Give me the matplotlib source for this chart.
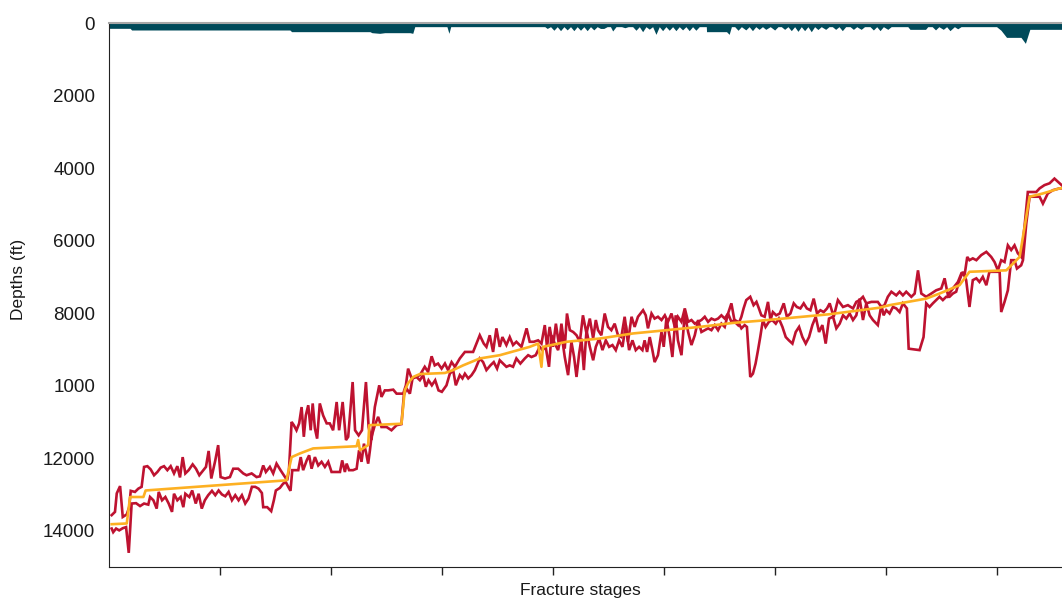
import matplotlib
matplotlib.use('Agg')
import matplotlib.pyplot as plt

plt.rcParams['font.family'] = ['Liberation Sans', 'DejaVu Sans']

# depth axis ticks (the 10000 label reads "1000" in the original)
depth_ticks = [0, 2000, 4000, 6000, 8000, 10000, 12000, 14000]
depth_labels = ['0', '2000', '4000', '6000', '8000', '1000', '12000', '14000']
stage_ticks = [50, 100, 150, 200, 250, 300, 350, 400]

# first red series (stage, depth ft)
red1_stage = [1.2, 2.7, 3.5, 5.0, 6.2, 8.0, 9.1, 9.8, 11.7, 13.2, 14.7, 15.8, 17.3, 18.8, 20.3, 21.8, 23.3, 24.8,
              26.3, 27.8, 29.3, 30.8, 32.0, 33.2, 34.4, 35.9, 37.7, 39.2, 40.7, 42.5, 43.7, 44.9, 46.1, 47.9, 49.2,
              50.3, 52.3, 54.5, 56.0, 58.2, 60.5, 62.0, 64.3, 66.5, 68.0, 69.5, 70.7, 72.5, 74.0, 75.5, 77.3, 78.8,
              80.3, 81.1, 82.3,
              83.3, 84.5, 85.7, 86.8, 87.8, 88.7, 89.8, 90.9, 91.8, 92.8, 93.8, 95.0, 96.5, 98.1, 99.5, 101.0, 102.6,
              103.7, 105.3, 106.8, 107.8, 109.8, 110.9, 112.5, 114.0, 115.8, 117.0, 118.3, 119.8, 121.8, 122.8, 124.3,
              125.8, 128.1, 129.6, 132.6, 133.8, 134.8, 136.4, 137.8, 140.1, 142.3, 143.8, 145.4, 146.8, 148.3, 149.9,
              151.4, 152.8, 154.4, 155.9,
              158.1, 160.4, 164.1, 167.1, 168.9, 170.1, 171.6, 173.1, 174.6, 176.1, 177.3, 179.1, 180.6, 182.1, 183.6,
              185.9, 188.2, 189.6, 191.4, 193.4, 194.9, 196.4, 197.4, 198.6, 200.1, 201.4, 202.8, 203.9, 205.4, 206.4,
              207.7, 209.2, 210.7, 212.2, 213.6, 215.2, 216.7, 218.2, 219.4, 220.4, 221.9, 223.4, 224.9, 226.4, 227.9,
              229.4, 230.9, 232.4, 233.9, 235.5, 236.9, 238.4,
              240.7, 241.9, 242.9, 244.5, 245.9, 247.4, 249.0, 250.5, 251.9, 253.5, 255.0, 256.4, 258.0, 259.5, 261.0,
              262.5, 264.0, 265.5, 267.0, 268.5, 270.0, 271.5, 273.0, 274.5, 276.0, 277.5, 279.0, 280.5, 282.0, 283.5,
              285.0, 286.0, 287.2, 289.0, 290.5, 291.8, 292.9, 294.0, 295.5, 297.0, 298.1, 299.2, 300.7, 302.3, 304.1,
              305.5, 307.1, 308.6, 310.0, 311.6, 313.1, 314.5, 316.1, 317.6, 319.1, 320.6, 322.1, 323.6,
              324.8, 326.6, 328.5, 330.8, 333.0, 335.3, 336.8, 338.3, 339.8, 341.3, 343.6, 346.5, 348.1, 349.5, 351.0,
              352.6, 354.8, 356.3, 357.8, 359.3, 361.6, 363.1, 364.6, 366.1, 368.3, 370.6, 372.8, 375.1, 376.6, 378.1,
              380.3, 382.6, 384.1, 385.6, 386.8, 387.8, 389.3, 390.9, 393.1, 395.4, 397.6, 399.1, 400.6, 402.1, 403.6,
              405.1, 406.6, 408.1, 409.6, 411.1, 412.6, 414.1, 417.9, 419.4, 421.6, 423.9, 426.1, 428.4, 429.5]
red1_depth = [13570, 13480, 12970, 12770, 13620, 13550, 13350, 12900, 12930, 12840, 12790, 12240, 12220, 12310, 12470,
              12380, 12260, 12220, 12330, 12220, 12420, 12220, 12530, 11970, 12420, 12330, 12170, 12290, 12470, 12330,
              12240, 11800, 12560, 12060, 11640, 12520, 12560, 12520, 12290, 12290, 12420, 12470, 12420, 12520, 12500,
              12200, 12380, 12240, 12420, 12150, 12330, 12470, 12610, 12330, 11000,
              11090, 11230, 11040, 10590, 11410, 10820, 10540, 11230, 10490, 11180, 11460, 10490, 10820, 11040, 11040,
              11230, 10450, 11230, 10450, 11500, 11410, 9900, 11230, 11370, 11230, 9900, 11140, 11500, 10590, 9990,
              10310, 10130, 10130, 10110, 10220, 10220, 9990, 9530, 9800, 9760, 9710, 9480, 9620, 9190, 9440, 9390,
              9530, 9390, 9570, 9350, 9480,
              9250, 9070, 9070, 8610, 8840, 8930, 8610, 9070, 8420, 8930, 8660, 8880, 8660, 8880, 8790, 8930, 8420,
              8790, 8790, 8750, 8840, 8330, 8930, 8380, 8930, 8290, 8880, 8290, 8980, 8010, 8470, 8520, 8610, 8790,
              8060, 8560, 8150, 8700, 8190, 8470, 8610, 8010, 8380, 8470, 8290, 8610, 8660, 8100, 8790, 8100, 8380,
              8100,
              7920, 8060, 8420, 8010, 8150, 8100, 8190, 8060, 8240, 8010, 8380, 8100, 8240, 7870, 8240, 8190, 8290,
              8240, 8190, 8100, 8240, 8150, 8190, 8150, 8060, 8150, 8010, 7730, 8240, 8330, 8100, 7870, 7640, 7550,
              7780, 7690, 7870, 8060, 8100, 7690, 8190, 7970, 8060, 8010, 7730, 8100, 8010, 7730, 7830, 7870, 7730,
              7870, 7920, 7600, 8010, 7920, 7970, 7870,
              7730, 8100, 7640, 7830, 7780, 7870, 7690, 7640, 7550, 7730, 7690, 7690, 7830, 7780, 7550, 7410, 7510,
              7410, 7510, 7410, 7550, 7460, 6820, 7460, 7550, 7460, 7370, 7320, 7040, 7510, 7320, 7140, 6910, 6950,
              6450, 6540, 6490, 6540, 6400, 6310, 6450, 6590, 6820, 6540, 6590, 6130, 6260, 6130, 6350, 6450, 5620,
              4660, 4660, 4560, 4470, 4420, 4290, 4420, 4480]

# second red series (stage, depth ft)
red2_stage = [1.2, 1.9, 3.2, 4.6, 6.2, 7.7, 8.9, 10.2, 12.2, 14.0, 15.8, 17.7, 18.5, 20.0, 21.5, 22.4, 23.9, 25.4,
              26.9, 28.4, 29.3, 30.8, 32.3, 33.5, 34.4, 36.2, 37.5, 39.1, 40.4, 41.8, 43.2, 44.7, 46.4, 47.9, 49.4,
              50.9, 52.4, 53.9, 55.4, 56.9, 58.4, 59.9, 61.4, 62.9, 64.4, 65.9, 67.4, 68.9, 69.5, 71.3, 73.1, 74.3,
              75.2, 77.0, 78.5, 79.7, 80.8, 81.8,
              82.6, 83.8, 85.3, 86.4, 87.5, 89.1, 90.2, 91.3, 92.8, 94.3, 95.8, 97.3, 98.8, 100.3, 102.6, 104.1, 105.1,
              106.3, 107.1, 108.2, 110.0, 111.6, 112.7, 113.8, 114.9, 115.8, 116.8, 117.6, 118.3, 119.8, 121.3, 122.8,
              125.1, 127.3, 129.6, 131.8, 132.9, 134.1, 135.6, 136.8, 138.6, 140.1, 141.6, 142.8, 144.0, 145.5, 147.0,
              148.5, 150.0, 152.1, 153.6, 155.1, 156.3,
              158.1, 159.3, 160.4, 161.9, 163.4, 164.9, 167.1, 168.6, 170.1, 171.9, 173.4, 174.9, 176.1, 177.6, 179.1,
              180.6, 182.1, 183.6, 185.4, 187.4, 188.9, 190.4, 192.3, 194.1, 195.4, 196.8, 198.3, 199.4, 200.9, 202.4,
              203.9, 205.4, 206.9, 208.4, 209.6, 210.7, 211.9, 212.9, 214.0, 215.2, 216.7, 218.2, 219.4, 220.9, 222.4,
              223.9, 225.4, 226.9, 228.4, 229.9, 231.4, 232.9, 234.4, 235.9, 237.4, 238.9,
              240.4, 241.4, 242.5, 243.7, 244.9, 245.9, 247.4, 249.0, 250.0, 251.2, 252.7, 253.9, 255.4, 256.4, 258.0,
              259.5, 261.0, 262.5, 264.0, 265.5, 267.0, 268.5, 270.0, 271.5, 273.0, 274.5, 276.0, 277.5, 279.0, 280.5,
              282.0, 283.5, 285.0, 286.5, 287.5, 288.1, 289.0, 290.2, 291.4, 292.5, 293.5, 294.7, 295.9, 297.4, 298.9,
              300.5, 301.9, 303.5, 305.0, 306.4, 308.0, 309.5, 311.0, 312.5, 314.0, 315.5, 317.0, 318.5, 320.0, 321.5,
              323.0, 324.5,
              326.3, 327.8, 329.3, 330.8, 332.3, 333.8, 335.3, 336.8, 338.3, 339.8, 341.3, 342.8, 344.3, 346.5, 348.1,
              349.1, 350.3, 351.8, 353.3, 354.8, 356.3, 357.8, 359.6, 360.4, 365.3, 367.1, 368.3, 369.8, 371.3, 372.8,
              374.3, 375.8, 377.3, 378.8, 380.3, 381.8, 383.3, 384.8, 386.3, 387.8, 389.3, 390.9, 392.3, 393.8, 395.4,
              396.8, 398.3, 401.4, 402.1, 403.6, 405.1, 406.6, 408.1, 409.2, 411.1, 411.9, 413.4, 414.9, 417.1, 419.4,
              420.9, 423.1, 425.4, 428.4, 429.5]
red2_depth = [13940, 14040, 13940, 13990, 13930, 13900, 14610, 13250, 13240, 13320, 13250, 13280, 13070, 13160, 13390,
              12930, 13160, 13070, 13250, 13480, 12980, 13160, 13070, 13350, 12980, 13070, 12890, 13250, 12980, 13390,
              13160, 13020, 12900, 13020, 12890, 13000, 13050, 12930, 13160, 13020, 13160, 13020, 13250, 13110, 12790,
              12790, 12840, 12960, 13350, 13350, 13460, 13160, 12890, 12820, 12700, 12660, 12790, 12900,
              12330, 12330, 12330, 11970, 12330, 12060, 11920, 12290, 11970, 12200, 12100, 12240, 12100, 12380, 12380,
              12380, 12060, 12380, 12150, 12330, 12330, 12290, 11780, 12100, 11600, 11830, 12150, 11780, 11410, 11090,
              10860, 11140, 11140, 11230, 11090, 11060, 10260, 10080, 10220, 9800, 9760, 9850, 9710, 10030, 9850,
              9990, 9850, 10130, 10170, 9990, 9670, 9570, 9990,
              9710, 9800, 9670, 9800, 9710, 9570, 9250, 9350, 9570, 9440, 9350, 9530, 9300, 9390, 9480, 9440, 9480,
              9250, 9390, 9250, 9160, 9210, 9160, 8930, 9020, 8930, 9480, 8610, 8840, 9020, 8560, 9210, 9710, 8790,
              9210, 9760, 9110, 8700, 9570, 8470, 8930, 9300, 8930, 8700, 9020, 8750, 8930, 8880, 9020, 8750, 8930,
              8330, 9020, 8750, 9020, 8930,
              9020, 8750, 9070, 8660, 9020, 9350, 9160, 8520, 8930, 8150, 8660, 9210, 8060, 8750, 9160, 8010, 8520,
              8880, 8610, 8190, 8520, 8470, 8420, 8470, 8330, 8470, 8290, 8380, 8010, 8240, 8190, 8240, 8420, 8330,
              8380, 8930, 9760, 9670, 9390, 9020, 8660, 8190, 8380, 8240, 8190, 8290, 8150, 8380, 8660, 8750, 8840,
              8520, 8380, 8660, 8840, 8660, 8330, 8100, 8520, 8330, 8840, 8150,
              8100, 8420, 8290, 8060, 8150, 8010, 8190, 8060, 7600, 8190, 7730, 8060, 8190, 8330, 7780, 8060, 7920,
              8010, 7830, 7870, 7970, 7730, 7870, 8980, 9020, 8660, 7730, 7830, 7730, 7640, 7550, 7640, 7550, 7550,
              7460, 7410, 7090, 6860, 7090, 7830, 7090, 7040, 7140, 7000, 7230, 6860, 6860, 6860, 7970, 7690, 7370,
              6540, 6540, 6770, 6680, 6540, 5530, 4790, 4790, 4790, 4980, 4700, 4610, 4560, 4560]

# orange series (stage, depth ft)
orange_stage = [1.2, 8.0, 9.5, 15.5, 16.5, 80.0, 80.8, 82.3, 86.0, 92.0, 111.6, 112.3, 113.1, 116.8, 117.3, 131.8,
                133.3, 134.8, 137.1, 140.1, 151.4, 155.1, 159.6, 167.1, 176.1, 189.6, 193.4, 194.9, 195.6, 206.2,
                221.2, 236.2, 251.2, 266.2, 281.2, 293.2, 324.8, 347.3, 351.8, 368.3, 374.3, 383.3, 387.8, 404.4,
                410.4, 414.9, 420.9, 428.4, 429.5]
orange_depth = [13820, 13800, 13070, 13070, 12890, 12610, 12380, 11970, 11870, 11730, 11670, 11500, 11780, 11640,
                11090, 11050, 10130, 9930, 9760, 9680, 9650, 9570, 9440, 9250, 9160, 8930, 8840, 9480, 8930, 8790,
                8700, 8560, 8470, 8380, 8270, 8210, 8030, 7850, 7780, 7600, 7460, 7230, 6860, 6820, 6450, 4790,
                4700, 4560, 4550]

# teal band hanging from the top (stage, depth ft)
teal_stage = [0, 9.5, 10.2, 81.5, 82.3, 117.6, 118.5, 122, 124.3, 135.6, 136.9, 137.8, 152.3, 153.2, 154.0, 196.4,
              197.5, 199, 200.5, 202, 203.5, 205, 206.5, 208, 209.5, 211, 212.5, 214, 215.5, 217, 218.5, 220, 221.5,
              223, 224.5, 226, 227, 228.5, 231, 232.5, 234, 236, 237.5, 239, 240.5, 242, 243.5, 245, 246.5, 248,
              249.5, 251, 252.5, 254, 255.5, 257, 258.5, 260, 261.5, 263, 264.5, 266, 269.2, 269.3, 278.3, 279.5,
              280.5, 282, 283.5, 285, 287, 288.5, 290, 291.5, 293, 294.5, 296, 298, 300, 301.5, 303, 304.5, 306,
              307.5, 309, 310.5, 312, 313.5, 315, 316.5, 318, 319.5, 321, 323, 324.5, 326, 327.5, 329, 330.5, 332,
              334, 335.5, 337, 339, 340.5, 343, 344.5, 346, 347.5, 349, 351, 352.5, 355, 360, 361, 368, 369, 371,
              372.5, 374, 376, 377.5, 379, 381, 382.5, 384, 400, 402, 404.5, 411, 413, 415, 429.5]
teal_depth = [147, 147, 193, 193, 239, 239, 267, 285, 267, 267, 285, 101, 101, 285, 101, 101,
              150, 101, 200, 101, 211, 101, 190, 101, 211, 101, 200, 101, 211, 101, 190, 101, 150,
              150, 101, 101, 220, 101, 101, 130, 101, 101, 200, 101, 240, 101, 170, 101, 313, 101,
              211, 101, 200, 101, 211, 101, 190, 101, 211, 101, 200, 101, 101, 239, 239, 313,
              101, 101, 200, 101, 190, 101, 211, 101, 175, 101, 175, 101, 193, 101, 101, 175, 101,
              211, 101, 230, 101, 211, 101, 240, 101, 180, 101, 175, 101, 101, 175, 101, 211, 101,
              101, 175, 101, 175, 101, 101, 193, 101, 211, 101, 175, 101, 101, 101, 175, 175, 101, 101,
              190, 101, 175, 101, 211, 101, 160, 101, 101, 200, 396, 396, 561, 175, 175]

red = '#BE1230'
orange = '#FDB022'
teal = '#004A5A'

fig = plt.figure(figsize=(10.62, 6.02), dpi=100)
ax = fig.add_axes([109 / 1062, 1 - 567 / 602, 1 - 109 / 1062, 544 / 602])

ax.fill_between(teal_stage, 0, teal_depth, color=teal, lw=0, zorder=2)
ax.plot(red2_stage, red2_depth, color=red, lw=1.9, zorder=3, solid_joinstyle='miter')
ax.plot(red1_stage, red1_depth, color=red, lw=1.9, zorder=3, solid_joinstyle='miter')
ax.plot(orange_stage, orange_depth, color=orange, lw=1.9, zorder=4)

ax.set_xlim(0, 429.5)
ax.set_ylim(15000, 0)
ax.set_yticks(depth_ticks)
ax.set_yticklabels(depth_labels, fontsize=13.5, color='#1a1a1a')
ax.set_xticks(stage_ticks)
ax.tick_params(axis='y', length=0, pad=10)
ax.tick_params(axis='x', length=6, width=1, direction='out', labelbottom=False, color='#222222')

ax.spines['right'].set_visible(False)
ax.spines['top'].set_color('#a8a8a8')
ax.spines['top'].set_linewidth(1.5)
ax.spines['top'].set_zorder(5)
ax.spines['left'].set_color('#222222')
ax.spines['bottom'].set_color('#222222')

fig.text(19 / 1062, 1 - 279 / 602, 'Depths (ft)', rotation=90, ha='center', va='center', fontsize=12.5,
         color='#1a1a1a')
fig.text(580 / 1062, 1 - 591 / 602, 'Fracture stages', ha='center', va='center', fontsize=12.5, color='#1a1a1a')

plt.savefig('out.png', dpi=100)
plt.close()
